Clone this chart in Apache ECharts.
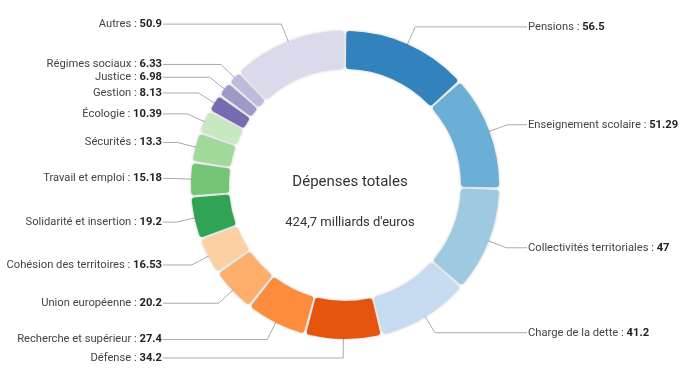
<!DOCTYPE html>
<html>
<head>
<meta charset="utf-8">
<script src="https://cdn.jsdelivr.net/npm/echarts@6/dist/echarts.min.js"></script>
<style>html,body{margin:0;padding:0;background:#fff}#c{width:696px;height:374px}</style>
</head>
<body>
<div id="c"></div>
<script>
const categories = ["Pensions","Enseignement scolaire","Collectivités territoriales","Charge de la dette","Défense","Recherche et supérieur","Union européenne","Cohésion des territoires","Solidarité et insertion","Travail et emploi","Sécurités","Écologie","Gestion","Justice","Régimes sociaux","Autres"];
const values = [56.5,51.29,47,41.2,34.2,27.4,20.2,16.53,19.2,15.18,13.3,10.39,8.13,6.98,6.33,50.9];
const colors = ["#3182bd","#6baed6","#9ecae1","#c6dbef","#e6550d","#fd8d3c","#fdae6b","#fdd0a2","#31a354","#74c476","#a1d99b","#c7e9c0","#756bb1","#9e9ac8","#bcbddc","#dadaeb"];
const centerTitle = "Dépenses totales";
const centerSub = "424,7 milliards d'euros";

const CX = 345, CY = 185, R_IN = 116, R_OUT = 154, R_MID = 135, R_BEND = 173, LABEL_DX = 182;

const chart = echarts.init(document.getElementById('c'), null, {renderer: 'canvas'});
const ringData = categories.map((n, i) => ({name: n, value: values[i], itemStyle: {color: colors[i]}}));
const labelData = categories.map((n, i) => ({name: n, value: values[i]}));

chart.setOption({
  animation: false,
  title: [
    {text: centerTitle, left: CX, top: 170, textAlign: 'center', textStyle: {fontFamily: 'Roboto', fontSize: 15, fontWeight: 'normal', color: '#333'}},
    {text: centerSub, left: CX, top: 211, textAlign: 'center', textStyle: {fontFamily: 'Roboto', fontSize: 13, fontWeight: 'normal', color: '#333'}}
  ],
  series: [
    {
      type: 'pie',
      center: [CX, CY],
      radius: [R_IN, R_OUT],
      startAngle: 90,
      clockwise: true,
      padAngle: 1,
      silent: true,
      itemStyle: {borderRadius: 3, shadowBlur: 3, shadowColor: 'rgba(0,0,0,0.25)'},
      label: {show: false},
      labelLine: {show: false},
      data: ringData
    },
    {
      type: 'pie',
      center: [CX, CY],
      radius: [R_MID - 1, R_MID],
      startAngle: 90,
      clockwise: true,
      padAngle: 1,
      silent: true,
      itemStyle: {color: 'rgba(0,0,0,0)'},
      label: {
        show: true,
        position: 'outside',
        fontFamily: 'Roboto',
        fontSize: 11.2,
        color: '#444',
        formatter: '{b} : {v|{c}}',
        rich: {v: {fontFamily: 'Roboto', fontSize: 11.2, fontWeight: 'bold', color: '#222'}}
      },
      labelLine: {show: true, length: 38, length2: 10, lineStyle: {color: '#aaa', width: 1}},
      labelLayout: function (p) {
        const pts = p.labelLinePoints;
        if (!pts) return {};
        const p0 = pts[0];
        const ang = Math.atan2(p0[1] - CY, p0[0] - CX);
        const bx = CX + R_BEND * Math.cos(ang);
        const by = CY + R_BEND * Math.sin(ang);
        const right = Math.cos(ang) >= 0;
        const lx = right ? CX + LABEL_DX : CX - LABEL_DX;
        return {
          x: right ? lx + 1 : lx - 1,
          y: by,
          align: right ? 'left' : 'right',
          verticalAlign: 'middle',
          labelLinePoints: [p0, [bx, by], [lx, by]]
        };
      },
      data: labelData
    }
  ]
});
</script>
</body>
</html>
